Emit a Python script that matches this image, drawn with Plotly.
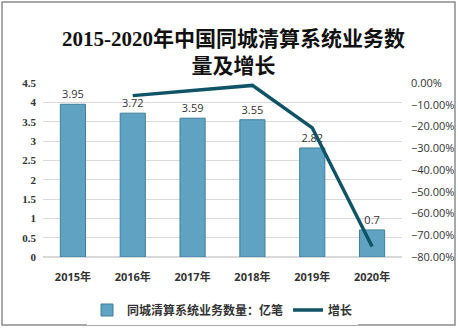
import plotly.graph_objects as go

years = ["2015年", "2016年", "2017年", "2018年", "2019年", "2020年"]
volume = [3.95, 3.72, 3.59, 3.55, 2.82, 0.7]
growth_years = ["2016年", "2017年", "2018年", "2019年", "2020年"]
growth = [-0.058, -0.035, -0.011, -0.206, -0.752]
volume_labels = ["3.95", "3.72", "3.59", "3.55", "2.82", "0.7"]

W, H = 458, 329
L, R, T, B = 43, 56, 83, 72
pw, ph = W - L - R, H - T - B

def px(x):
    return (x - L) / pw

def py(y):
    return (H - B - y) / ph

fig = go.Figure()
fig.add_trace(go.Bar(
    x=years, y=volume, name="同城清算系统业务数量：亿笔",
    marker=dict(color="#5fa2c2", line=dict(color="#3f7f9c", width=1)),
    text=volume_labels, textposition="outside",
    textfont=dict(size=11, color="#333333", family="Open Sans, Noto Sans CJK SC"),
    cliponaxis=False,
))
fig.add_trace(go.Scatter(
    x=growth_years, y=growth, name="增长", yaxis="y2", mode="lines",
    line=dict(color="#0f5366", width=3.5),
))

fig.update_layout(
    width=W, height=H,
    margin=dict(l=L, r=R, t=T, b=B, autoexpand=False),
    paper_bgcolor="white", plot_bgcolor="white",
    bargap=0.58,
    showlegend=True,
    annotations=[dict(
        text="<b>2015-2020年中国同城清算系统业务数<br>量及增长</b>",
        xref="paper", yref="paper", x=px(233), y=py(52),
        xanchor="center", yanchor="middle", showarrow=False, align="center",
        font=dict(size=21, color="#111111", family="Liberation Serif, Noto Sans CJK SC"),
    )],
    xaxis=dict(
        tickfont=dict(size=11, color="#333333", family="Open Sans, Noto Sans CJK SC", weight="bold"),
        showgrid=False, showline=False, ticks="", ticklabelstandoff=12,
    ),
    yaxis=dict(
        range=[0, 4.5], dtick=0.5, showgrid=True, gridcolor="#d9d9d9",
        tickfont=dict(size=11, color="#333333", family="Liberation Serif, DejaVu Serif", weight="bold"),
        zeroline=True, zerolinecolor="#d9d9d9", ticks="", ticklabelstandoff=6,
    ),
    yaxis2=dict(
        range=[-0.8, 0], dtick=0.1, tickformat=".2%", overlaying="y", side="right",
        showgrid=False, zeroline=False,
        tickfont=dict(size=11, color="#333333", family="Open Sans"),
        ticklabelstandoff=8,
    ),
    legend=dict(
        orientation="h", x=0.5, xanchor="center", y=py(310), yanchor="middle",
        font=dict(size=12, color="#333333", family="Noto Sans CJK SC", weight="bold"),
        tracegroupgap=0, entrywidth=0,
    ),
    shapes=[dict(
        type="rect", xref="paper", yref="paper",
        x0=px(2), x1=px(455), y0=py(325), y1=py(2),
        line=dict(color="#8c8c8c", width=1.5), fillcolor="rgba(0,0,0,0)",
    )],
)

fig.write_html("out.html")
